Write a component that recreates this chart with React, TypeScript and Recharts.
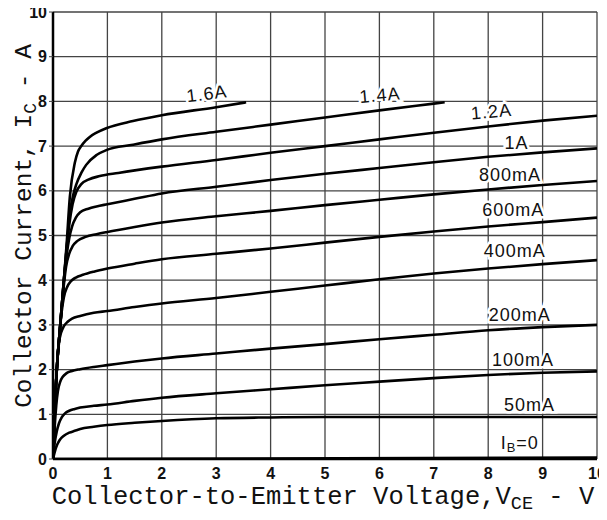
import React from "react";
import {
  LineChart,
  Line,
  XAxis,
  YAxis,
  CartesianGrid,
  Scatter,
} from "recharts";

// ---- data (Collector-Emitter voltage V, Collector current A) ----
const xTicks = [0, 1, 2, 3, 4, 5, 6, 7, 8, 9, 10];
const yTicks = [0, 1, 2, 3, 4, 5, 6, 7, 8, 9, 10];

const ib0: number[][] = [[0, 0], [10, 0.03]];
const ib50mA: number[][] = [
  [0, 0], [0.03, 0.15], [0.07, 0.3], [0.12, 0.42], [0.2, 0.52], [0.3, 0.59], [0.4, 0.63],
  [0.5, 0.67], [0.75, 0.72], [1, 0.76], [1.5, 0.81], [2, 0.85], [3, 0.91], [4, 0.93],
  [5, 0.94], [6, 0.94], [7, 0.94], [8, 0.94], [9, 0.94], [10, 0.94],
];
const ib100mA: number[][] = [
  [0, 0], [0.03, 0.35], [0.07, 0.62], [0.11, 0.8], [0.16, 0.93], [0.22, 1.02], [0.3, 1.08],
  [0.4, 1.12], [0.5, 1.15], [0.75, 1.19], [1, 1.22], [1.5, 1.3], [2, 1.37], [3, 1.47],
  [4, 1.56], [5, 1.65], [6, 1.73], [7, 1.81], [8, 1.88], [9, 1.93], [10, 1.96],
];
const ib200mA: number[][] = [
  [0, 0], [0.03, 0.7], [0.06, 1.2], [0.09, 1.52], [0.13, 1.72], [0.18, 1.84], [0.25, 1.92],
  [0.35, 1.97], [0.5, 2.01], [0.75, 2.06], [1, 2.1], [1.5, 2.18], [2, 2.25], [3, 2.36],
  [4, 2.47], [5, 2.57], [6, 2.68], [7, 2.78], [8, 2.88], [9, 2.95], [10, 3.0],
];
const ib400mA: number[][] = [
  [0, 0], [0.04, 1.3], [0.08, 2.2], [0.11, 2.6], [0.15, 2.83], [0.2, 2.97], [0.27, 3.07],
  [0.35, 3.14], [0.5, 3.2], [0.75, 3.27], [1, 3.31], [1.5, 3.4], [2, 3.48], [3, 3.6],
  [4, 3.74], [5, 3.88], [6, 4.02], [7, 4.15], [8, 4.26], [9, 4.36], [10, 4.45],
];
const ib600mA: number[][] = [
  [0, 0], [0.04, 1.3], [0.08, 2.2], [0.12, 2.8], [0.16, 3.3], [0.2, 3.62], [0.26, 3.85],
  [0.33, 3.98], [0.42, 4.06], [0.55, 4.12], [0.75, 4.19], [1, 4.26], [1.5, 4.37], [2, 4.47],
  [3, 4.59], [4, 4.71], [5, 4.84], [6, 4.97], [7, 5.09], [8, 5.2], [9, 5.3], [10, 5.4],
];
const ib800mA: number[][] = [
  [0, 0], [0.04, 1.3], [0.08, 2.2], [0.12, 2.8], [0.16, 3.4], [0.2, 3.9], [0.24, 4.3],
  [0.3, 4.6], [0.36, 4.76], [0.45, 4.88], [0.6, 4.97], [0.8, 5.03], [1, 5.08], [1.5, 5.19],
  [2, 5.29], [3, 5.43], [4, 5.55], [5, 5.68], [6, 5.8], [7, 5.92], [8, 6.03], [9, 6.13], [10, 6.22],
];
const ib1A: number[][] = [
  [0, 0], [0.04, 1.3], [0.08, 2.2], [0.12, 2.8], [0.16, 3.4], [0.2, 4.0], [0.25, 4.55],
  [0.3, 4.95], [0.35, 5.2], [0.42, 5.4], [0.5, 5.52], [0.65, 5.6], [0.8, 5.65], [1, 5.7],
  [1.5, 5.82], [2, 5.94], [3, 6.09], [4, 6.24], [5, 6.38], [6, 6.51], [7, 6.64], [8, 6.76],
  [9, 6.86], [10, 6.95],
];
const ib1_2A: number[][] = [
  [0, 0], [0.04, 1.3], [0.08, 2.2], [0.12, 2.8], [0.16, 3.4], [0.2, 4.0], [0.25, 4.7],
  [0.3, 5.25], [0.36, 5.7], [0.43, 5.98], [0.52, 6.15], [0.65, 6.25], [0.86, 6.33],
  [1.2, 6.4], [2, 6.54], [3, 6.69], [4, 6.85], [5, 7.0], [6, 7.15], [7, 7.3], [8, 7.44],
  [9, 7.57], [10, 7.68],
];
const ib1_4A: number[][] = [
  [0, 0], [0.04, 1.3], [0.08, 2.2], [0.12, 2.8], [0.16, 3.4], [0.2, 4.0], [0.25, 4.7],
  [0.31, 5.5], [0.37, 5.9], [0.43, 6.15], [0.52, 6.4], [0.61, 6.58], [0.8, 6.8], [0.98, 6.91],
  [1.47, 7.03], [2, 7.15], [3, 7.32], [4, 7.48], [5, 7.64], [6, 7.8], [7, 7.95], [7.2, 7.98],
];
const ib1_6A: number[][] = [
  [0, 0], [0.04, 1.3], [0.08, 2.2], [0.12, 2.8], [0.16, 3.4], [0.2, 4.0], [0.25, 4.8],
  [0.31, 5.87], [0.4, 6.62], [0.46, 6.88], [0.52, 7.0], [0.6, 7.12], [0.67, 7.2], [0.8, 7.3],
  [0.98, 7.4], [1.47, 7.56], [2, 7.69], [3, 7.87], [3.55, 7.98],
];

const curves = [ib0, ib50mA, ib100mA, ib200mA, ib400mA, ib600mA, ib800mA, ib1A, ib1_2A, ib1_4A, ib1_6A];

// curve labels
const labelNames = ["1.6A", "1.4A", "1.2A", "1A", "800mA", "600mA", "400mA", "200mA", "100mA", "50mA", "IB=0"];
const labelX = [2.83, 6.01, 8.06, 8.52, 8.4, 8.46, 8.49, 8.58, 8.64, 8.76, 8.58];
const labelY = [8.17, 8.14, 7.77, 7.06, 6.35, 5.57, 4.66, 3.22, 2.21, 1.21, 0.35];
const labelAngle = [-7, -5, -5, 0, 0, 0, 0, 0, 0, 0, 0];

const labelData = labelNames.map((name, i) => ({ x: labelX[i], y: labelY[i], name, angle: labelAngle[i] }));

const toPoints = (c: number[][]) => c.map(([x, y]) => ({ x, y }));

const monoFont = "'Liberation Mono', 'DejaVu Sans Mono', monospace";
const tickFont = "'Liberation Sans', Arial, sans-serif";

const CurveLabel = (props: any) => {
  const { cx, cy, payload } = props;
  const common = {
    fontFamily: tickFont,
    fontSize: 18,
    letterSpacing: 1,
    fill: "#111",
    stroke: "#fff",
    strokeWidth: 5,
    paintOrder: "stroke" as any,
    textAnchor: "middle" as const,
    dominantBaseline: "central" as const,
    transform: `rotate(${payload.angle} ${cx} ${cy})`,
  };
  if (payload.name === "IB=0") {
    return (
      <text x={cx} y={cy} {...common}>
        I<tspan fontSize={13} dy={4}>B</tspan>
        <tspan dy={-4}>=0</tspan>
      </text>
    );
  }
  return (
    <text x={cx} y={cy} {...common}>
      {payload.name}
    </text>
  );
};

const XTitle = (props: any) => {
  const vb = props.viewBox || { x: 0, y: 0, width: 0, height: 0 };
  const cx = vb.x + vb.width / 2 - 2;
  const y = vb.y + 45;
  return (
    <text x={cx} y={y} textAnchor="middle" fontFamily={monoFont} fontSize={25.5} fill="#111">
      Collector-to-Emitter Voltage,V<tspan fontSize={18.5} dy={5}>CE</tspan>
      <tspan dy={-5}> - V</tspan>
    </text>
  );
};

const YTitle = () => {
  const x = 31;
  const cy = 226;
  return (
    <text
      x={x}
      y={cy}
      textAnchor="middle"
      fontFamily={monoFont}
      fontSize={24.5}
      fill="#111"
      transform={`rotate(-90 ${x} ${cy})`}
    >
      Collector Current, I<tspan fontSize={18} dy={5}>C</tspan>
      <tspan dy={-5}> - A</tspan>
    </text>
  );
};

export default function App() {
  return (
    <div style={{ margin: "-8px", width: 607, height: 520, background: "#fff" }}>
      <LineChart
        width={607}
        height={520}
        margin={{ top: 12, right: 10, bottom: 0, left: 8 }}
      >
        <CartesianGrid stroke="#444" strokeWidth={1.3} />
        <XAxis
          type="number"
          dataKey="x"
          domain={[0, 10]}
          ticks={xTicks}
          interval={0}
          allowDataOverflow
          height={61}
          tickLine={false}
          axisLine={{ stroke: "#000", strokeWidth: 2.5 }}
          tick={{ fontFamily: tickFont, fontSize: 16, fontWeight: 700, fill: "#111" }}
          tickMargin={3}
          label={{ content: XTitle }}
        />
        <YAxis
          type="number"
          dataKey="y"
          domain={[0, 10]}
          ticks={yTicks}
          interval={0}
          allowDataOverflow
          width={45}
          tickSize={4}
          tickLine={{ stroke: "#444" }}
          axisLine={{ stroke: "#000", strokeWidth: 2.5 }}
          tick={{ fontFamily: tickFont, fontSize: 16, fontWeight: 700, fill: "#111" }}
          tickMargin={2}
          label={{ content: YTitle }}
        />
        {curves.map((c, i) => (
          <Line
            key={i}
            data={toPoints(c)}
            dataKey="y"
            type="monotone"
            stroke="#000"
            strokeWidth={2.6}
            dot={false}
            activeDot={false}
            isAnimationActive={false}
          />
        ))}
        <Scatter data={labelData} dataKey="y" shape={CurveLabel} isAnimationActive={false} />
      </LineChart>
    </div>
  );
}
